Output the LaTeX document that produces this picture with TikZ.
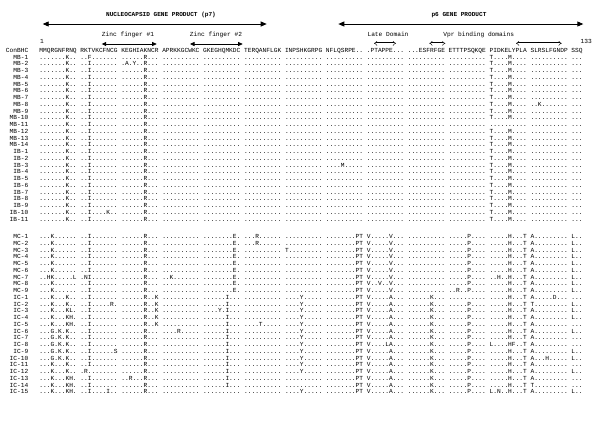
\documentclass[tikz,border=0pt]{standalone}
\usepackage{fontspec}
\usetikzlibrary{arrows.meta}
\newfontfamily\seqmono{Liberation Mono}
\newcommand\seqfont{\seqmono\fontsize{6.2bp}{7bp}\selectfont\frenchspacing\spaceskip=0.6em\relax\xspaceskip=0.6em\relax}
\newcommand\seqbold{\seqmono\bfseries\fontsize{6.1bp}{7bp}\selectfont\frenchspacing\spaceskip=0.6em\relax\xspaceskip=0.6em\relax}
\newcommand\seqrow[4]{\node[lab] (l#1) at (28.5,#2) {#3}; \node[sq] (s#1) at (39.3,#2) {#4};}
\begin{document}
\begin{tikzpicture}[x=1bp,y=-1bp,
  lab/.style={font=\seqfont, anchor=base east, inner sep=0pt},
  sq/.style={font=\seqfont, anchor=base west, inner sep=0pt},
  ttl/.style={font=\seqbold, inner sep=0pt},
  sub/.style={font=\seqfont, inner sep=0pt},
  gp/.style={line width=0.9bp, {Triangle[length=6bp,width=5bp]}-{Triangle[length=6bp,width=5bp]}},
  zf/.style={line width=0.7bp, {Triangle[length=4.5bp,width=4bp]}-{Triangle[length=4.5bp,width=4bp]}},
  dom/.style={line width=0.45bp, double, double distance=1.1bp, {Implies}-{Implies}}]
\fill[white] (0,0) rectangle (600,421);
\useasboundingbox (0,0) rectangle (600,421);
% headers
\node[ttl] (t7) at (161,15) {NUCLEOCAPSID GENE PRODUCT (p7)};
\node[ttl] (t6) at (459,15) {p6 GENE PRODUCT};
\coordinate (p7a) at (42.7,24); \coordinate (p7b) at (266.7,24);
\coordinate (p6a) at (338.3,24); \coordinate (p6b) at (583.3,24);
\draw[gp] (p7a) -- (p7b);
\draw[gp] (p6a) -- (p6b);
\node[sub] (z1) at (128,35) {Zinc finger \#1};
\node[sub] (z2) at (216,35) {Zinc finger \#2};
\node[sub] (ld) at (388,34.5) {Late Domain};
\node[sub] (vp) at (478.7,34.5) {Vpr binding domains};
\coordinate (z1a) at (101.7,44); \coordinate (z1b) at (156.7,44);
\coordinate (z2a) at (190,44); \coordinate (z2b) at (242.7,44);
\draw[zf] (z1a) -- (z1b);
\draw[zf] (z2a) -- (z2b);
\coordinate (lda) at (374,43.3); \coordinate (ldb) at (396,43.3);
\coordinate (v1a) at (429.3,43.3); \coordinate (v1b) at (445.3,43.3);
\coordinate (v2a) at (516,43.3); \coordinate (v2b) at (561.7,43.3);
\draw[dom] (lda) -- (ldb);
\draw[dom] (v1a) -- (v1b);
\draw[dom] (v2a) -- (v2b);
\node[sub] (n1) at (42,41) {1};
\node[sq] (n133) at (580.5,43) {133};
% consensus
\seqrow{c}{52.5}{ConBHC}{MMQRGNFRNQ RKTVKCFNCG KEGHIAKNCR APRKKGCWKC GKEGHQMKDC TERQANFLGK INPSHKGRPG NFLQSRPE.. .PTAPPE... ...ESFRFGE ETTTPSQKQE PIDKELYPLA SLRSLFGNDP SSQ}
% B rows
\seqrow{1}{59}{MB-1}{.......K.. ..F....... ......R... .......... .......... .......... .......... .......... .......... .......... .......... T....M.... .......... ...}
\seqrow{2}{65.75}{MB-2}{.......K.. ..I....... .A.Y..R... .......... .......... .......... .......... .......... .......... .......... .......... T....M.... .......... ...}
\seqrow{3}{72.5}{MB-3}{.......K.. ..I....... ......R... .......... .......... .......... .......... .......... .......... .......... .......... T....M.... .......... ...}
\seqrow{4}{79.25}{MB-4}{.......K.. ..I....... ......R... .......... .......... .......... .......... .......... .......... .......... .......... T....M.... .......... ...}
\seqrow{5}{86}{MB-5}{.......K.. ..I....... ......R... .......... .......... .......... .......... .......... .......... .......... .......... T....M.... .......... ...}
\seqrow{6}{92.75}{MB-6}{.......K.. ..I....... ......R... .......... .......... .......... .......... .......... .......... .......... .......... T....M.... .......... ...}
\seqrow{7}{99.5}{MB-7}{.......K.. ..I....... ......R... .......... .......... .......... .......... .......... .......... .......... .......... T....M.... .......... ...}
\seqrow{8}{106.25}{MB-8}{.......K.. ..I....... ......R... .......... .......... .......... .......... .......... .......... .......... .......... T....M.... ..K....... ...}
\seqrow{9}{113}{MB-9}{.......K.. ..I....... ......R... .......... .......... .......... .......... .......... .......... .......... .......... T....M.... .......... ...}
\seqrow{10}{119.75}{MB-10}{.......K.. ..I....... ......R... .......... .......... .......... .......... .......... .......... .......... .......... T....M.... .......... ...}
\seqrow{11}{126.5}{MB-11}{.......K.. ..I....... ......R... .......... .......... .......... .......... .......... .......... .......... .......... .......... .......... ...}
\seqrow{12}{133.25}{MB-12}{.......K.. ..I....... ......R... .......... .......... .......... .......... .......... .......... .......... .......... T....M.... .......... ...}
\seqrow{13}{140}{MB-13}{.......K.. ..I....... ......R... .......... .......... .......... .......... .......... .......... .......... .......... T....M.... .......... ...}
\seqrow{14}{146.75}{MB-14}{.......K.. ..I....... ......R... .......... .......... .......... .......... .......... .......... .......... .......... T....M.... .......... ...}
\seqrow{15}{153.5}{IB-1}{.......K.. ..I....... ......R... .......... .......... .......... .......... .......... .......... .......... .......... T....M.... .......... ...}
\seqrow{16}{160.25}{IB-2}{.......K.. ..I....... ......R... .......... .......... .......... .......... .......... .......... .......... .......... T....M.... .......... ...}
\seqrow{17}{167}{IB-3}{.......K.. ..I....... ......R... .......... .......... .......... .......... ....M..... .......... .......... .......... T....M.... .......... ...}
\seqrow{18}{173.75}{IB-4}{.......K.. ..I....... ......R... .......... .......... .......... .......... .......... .......... .......... .......... T....M.... .......... ...}
\seqrow{19}{180.5}{IB-5}{.......K.. ..I....... ......R... .......... .......... .......... .......... .......... .......... .......... .......... T....M.... .......... ...}
\seqrow{20}{187.25}{IB-6}{.......K.. ..I....... ......R... .......... .......... .......... .......... .......... .......... .......... .......... T....M.... .......... ...}
\seqrow{21}{194}{IB-7}{.......K.. ..I....... ......R... .......... .......... .......... .......... .......... .......... .......... .......... T....M.... .......... ...}
\seqrow{22}{200.75}{IB-8}{.......K.. ..I....... ......R... .......... .......... .......... .......... .......... .......... .......... .......... T....M.... .......... ...}
\seqrow{23}{207.5}{IB-9}{.......K.. ..I....... ......R... .......... .......... .......... .......... .......... .......... .......... .......... T....M.... .......... ...}
\seqrow{24}{214.25}{IB-10}{.......K.. ..I....K.. ......R... .......... .......... .......... .......... .......... .......... .......... .......... T....M.... .......... ...}
\seqrow{25}{221}{IB-11}{.......K.. ..I....... ......R... .......... .......... .......... .......... .......... .......... .......... .......... T....M.... .......... ...}
% C rows
\seqrow{26}{238.5}{MC-1}{...K...... ..I....... ......R... .......... ........E. ...R...... .......... ........PT V.....V... .......... .....P.... .....H...T A......... L..}
\seqrow{27}{245.25}{MC-2}{...K...... ..I....... ......R... .......... ........E. ...R...... .......... ........PT V.....V... .......... .....P.... .....H...T A......... L..}
\seqrow{28}{252}{MC-3}{...K...... ..I....... ......R... .......... ........E. .......... T......... ........PT V.....V... .......... .....P.... .....H...T A......... L..}
\seqrow{29}{258.75}{MC-4}{...K...... ..I....... ......R... .......... ........E. .......... .......... ........PT V.....V... .......... .....P.... .....H...T A......... L..}
\seqrow{30}{265.5}{MC-5}{...K...... ..I....... ......R... .......... ........E. .......... .......... ........PT V.....V... .......... .....P.... .....H...T A......... L..}
\seqrow{31}{272.25}{MC-6}{...K...... ..I....... ......R... .......... ........E. .......... .......... ........PT V.....V... .......... .....P.... .....H...T A......... L..}
\seqrow{32}{279}{MC-7}{..HK.....L .NI....... ......R... ..K....... ........E. .......... .......... ........PT V.....V... .......... .....P.... ..H..H...T A......... L..}
\seqrow{33}{285.75}{MC-8}{...K...... ..I....... ......R... .......... ........E. .......... .......... ........PT V..V..V... .......... .....P.... .....H...T A......... L..}
\seqrow{34}{292.5}{MC-9}{...K...... ..I....... ......R... .......... ........E. .......... .......... ........PT V.....V... .......... ..R..P.... .....H...T A......... L..}
\seqrow{35}{299.25}{IC-1}{...K...K.. ..I....... ......R..K .......... ......I... .......... ....Y..... ........PT V.....A... ......K... .......... .....H...T A.....D... ...}
\seqrow{36}{306}{IC-2}{...K...K.. ..I.....R. ......R..K .......... ......I... .......... ....Y..... ........PT V.....A... ......K... .....P.... .....H...T T......... L..}
\seqrow{37}{312.75}{IC-3}{...K...KL. ..I....... ......R..K .......... ....Y.I... .......... ....Y..... ........PT V.....A... ......K... .....P.... .....H...T A......... L..}
\seqrow{38}{319.5}{IC-4}{...K...KH. ..I....... ......R..K .......... ......I... .......... ....Y..... ........PT V.....A... ......K... .....P.... .....H...T A......... L..}
\seqrow{39}{326.25}{IC-5}{...K...KH. ..I....... ......R..K .......... ......I... ....T..... ....Y..... ........PT V.....A... ......K... .....P.... .....H...T A......... ...}
\seqrow{40}{333}{IC-6}{...G.K.K.. ..I....... ......R... ....R..... ......I... .......... ....Y..... ........PT V.....A... ......K... .....P.... .....H...T A......... L..}
\seqrow{41}{339.75}{IC-7}{...G.K.K.. ..I....... ......R... .......... ......I... .......... ....Y..... ........PT V.....A... ......K... .....P.... .....H...T A......... ...}
\seqrow{42}{346.5}{IC-8}{...G.K.K.. ..I....... ......R... .......... ......I... .......... ....Y..... ........PT V....LA... ......K... .....P.... L....HF..T A......... ...}
\seqrow{43}{353.25}{IC-9}{...G.K.K.. ..I......S ......R... .......... ......I... .......... ....Y..... ........PT V.....A... ......K... .....P.... .....H...T A......... L..}
\seqrow{44}{360}{IC-10}{...G.K.K.. ..I....... ......R... .......... ......I... .......... ....Y..... ........PT V.....A... ......K... .....P.... .....H...T A...H..... L..}
\seqrow{45}{366.75}{IC-11}{...K...K.. ..I....... ......R... .......... ......I... .......... ....Y..... ........PT V.....A... ......K... .....P.... .....H...T A......... ...}
\seqrow{46}{373.5}{IC-12}{...K...K.. .R........ ......R... .......... ......I... .......... ....Y..... ........PT V.....A... ......K... .....P.... .....H...T A......... L..}
\seqrow{47}{380.25}{IC-13}{...K...KH. ..I....... ..R...R... .......... ......I... .......... .......... ........PT V.....A... ......K... .....P.... .....H...T A......... ...}
\seqrow{48}{387}{IC-14}{...K...KH. ..I....... ......R... .......... ......I... .......... .......... ........PT V.....A... ......K... .....P.... .....H...T T......... ...}
\seqrow{49}{393.75}{IC-15}{...K...KH. ..I....I.. ......R... .......... .......... .......... ....Y..... ........PT V.....A... ......K... .....P.... L.N..H...T A......... L..}
\end{tikzpicture}
\end{document}
